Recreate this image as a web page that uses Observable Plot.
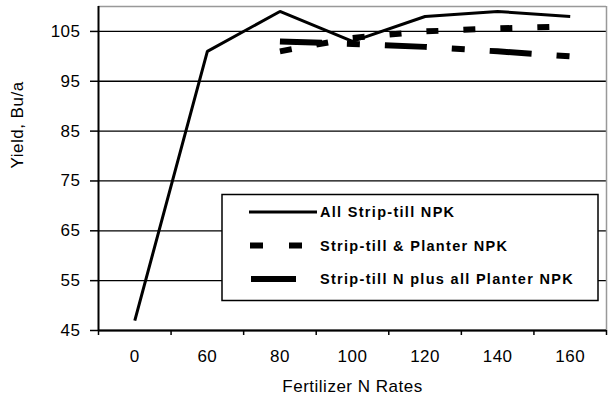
<!DOCTYPE html>
<html>
<head>
<meta charset="utf-8">
<script src="https://cdn.jsdelivr.net/npm/d3@7"></script>
<script src="https://cdn.jsdelivr.net/npm/@observablehq/plot@0.6"></script>
<style>
  html, body { margin: 0; padding: 0; background: white; }
  #chart { width: 611px; height: 407px; }
</style>
</head>
<body>
<div id="chart"></div>
<script>
// Fertilizer N rates (categories)
const rates = ["0", "60", "80", "100", "120", "140", "160"];
// Yield, Bu/a
const allStripTill = [47, 101, 109, 103, 108, 109, 108];
const stripPlanter = [null, null, 101, 103.7, 105, 105.6, 106];
const stripNPlanter = [null, null, 103, 102.5, 101.9, 101, 100];
const seriesNames = ["All Strip-till NPK", "Strip-till & Planter NPK", "Strip-till N plus all Planter NPK"];
const yTicks = [45, 55, 65, 75, 85, 95, 105];
const yDomain = [45, 110];
const xTitle = "Fertilizer N Rates";
const yTitle = "Yield, Bu/a";

const toRows = (vals) => vals.map((v, i) => ({i, v})).filter(d => d.v != null);
const idx = d3.range(rates.length);
const bounds = d3.range(rates.length + 1).map(i => i - 0.5);

const font = "'Liberation Sans', Arial, sans-serif";

const chart = Plot.plot({
  width: 611,
  height: 407,
  marginLeft: 98,
  marginRight: 5,
  marginTop: 6,
  marginBottom: 77,
  x: {type: "linear", domain: [bounds[0], bounds[bounds.length - 1]]},
  y: {domain: yDomain},
  style: {fontFamily: font, fontSize: "17px", color: "black", background: "white", letterSpacing: "0.5px"},
  marks: [
    Plot.gridY(yTicks, {stroke: "black", strokeOpacity: 1, strokeWidth: 1.3}),
    Plot.ruleY([yDomain[1]], {stroke: "#999", strokeWidth: 1.5}),
    Plot.ruleX([bounds[bounds.length - 1]], {stroke: "#999", strokeWidth: 1.5}),
    Plot.ruleX([bounds[0]], {stroke: "black", strokeWidth: 2}),
    Plot.ruleY([yDomain[0]], {stroke: "black", strokeWidth: 2}),
    Plot.axisY(yTicks, {tickSize: 8, tickPadding: 10, label: null, strokeWidth: 1.5, fontSize: 17}),
    Plot.axisX(bounds, {tickSize: 5, tickFormat: () => "", label: null, strokeWidth: 1.5}),
    Plot.axisX(idx, {tickSize: 0, tickPadding: 19, tickFormat: i => rates[i], label: null, fontSize: 17}),
    Plot.line(toRows(allStripTill), {x: "i", y: "v", stroke: "black", strokeWidth: 3, strokeLinejoin: "miter", strokeLinecap: "butt"}),
    Plot.line(toRows(stripPlanter), {x: "i", y: "v", stroke: "black", strokeWidth: 6, strokeDasharray: "12,25", strokeLinecap: "butt"}),
    Plot.line(toRows(stripNPlanter), {x: "i", y: "v", stroke: "black", strokeWidth: 6, strokeDasharray: "42,25,13,25", strokeLinecap: "butt"}),
    Plot.text([xTitle], {frameAnchor: "bottom", dy: 61, fontSize: 17}),
    Plot.text([yTitle], {frameAnchor: "left", rotate: -90, dx: -81, fontSize: 17})
  ]
});

document.getElementById("chart").appendChild(chart);

// Legend inside the plot area
const svg = d3.select(chart);
const lg = svg.append("g");
lg.append("rect").attr("x", 222).attr("y", 194.5).attr("width", 376).attr("height", 106)
  .attr("fill", "white").attr("stroke", "black").attr("stroke-width", 1.5);
const rowsY = [212, 245.5, 279];
const samples = [
  {w: 3, dash: null, x1: 249, x2: 317},
  {w: 6, dash: "13,26", x1: 250, x2: 302},
  {w: 6, dash: null, x1: 251, x2: 296}
];
seriesNames.forEach((name, k) => {
  const s = samples[k];
  lg.append("line").attr("x1", s.x1).attr("x2", s.x2).attr("y1", rowsY[k]).attr("y2", rowsY[k])
    .attr("stroke", "black").attr("stroke-width", s.w)
    .attr("stroke-dasharray", s.dash);
  lg.append("text").attr("x", 320).attr("y", rowsY[k]).attr("dy", "0.35em")
    .style("font-family", font).style("font-size", "14.5px").style("font-weight", "bold")
    .style("letter-spacing", "1.3px").style("text-anchor", "start").attr("fill", "black").text(name);
});
</script>
</body>
</html>
